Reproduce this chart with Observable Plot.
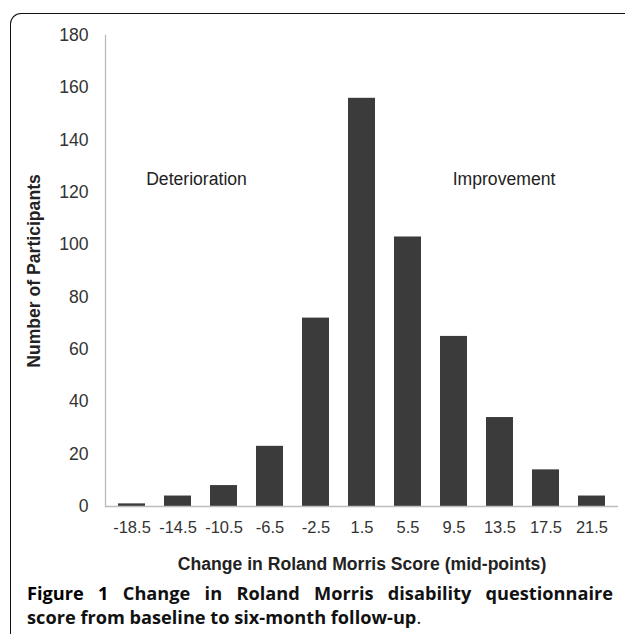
<!DOCTYPE html>
<html>
<head>
<meta charset="utf-8">
<script src="https://cdn.jsdelivr.net/npm/d3@7"></script>
<script src="https://cdn.jsdelivr.net/npm/@observablehq/plot@0.6"></script>
<style>
  html, body { margin: 0; padding: 0; background: #fff; }
  #wrap { position: relative; width: 625px; height: 634px; overflow: hidden; }
  #frame { position: absolute; left: 10px; top: 12.5px; width: 620px; height: 700px;
    border-left: 1.6px solid #111; border-top: 1.6px solid #111; border-top-left-radius: 11px; }
  #chart { position: absolute; left: 0; top: 0; }
  #caption { position: absolute; left: 27px; top: 581px; width: 586px;
    font-family: "Open Sans", sans-serif; font-weight: bold; font-size: 18.2px; line-height: 24px; color: #111; }
  #caption .l1 { text-align: justify; text-align-last: justify; white-space: nowrap; }
  #caption .dot { font-weight: normal; }
</style>
</head>
<body>
<div id="wrap">
  <div id="frame"></div>
  <div id="chart"></div>
  <div id="caption">
    <div class="l1"><span style="color:#000">Figure 1</span> Change in Roland Morris disability questionnaire</div>
    <div>score from baseline to six-month follow-up<span class="dot">.</span></div>
  </div>
</div>
<script>
const midpoints = ["-18.5", "-14.5", "-10.5", "-6.5", "-2.5", "1.5", "5.5", "9.5", "13.5", "17.5", "21.5"];
const participants = [1, 4, 8, 23, 72, 156, 103, 65, 34, 14, 4];
const yTicks = [0, 20, 40, 60, 80, 100, 120, 140, 160, 180];
const annotations = [
  {label: "Deterioration", at: "-14.5", value: 125, shift: 18.5},
  {label: "Improvement", at: "13.5", value: 125, shift: 4}
];

const data = midpoints.map((m, i) => ({mid: m, n: participants[i]}));
const font = "'Liberation Sans', Arial, sans-serif";
const fs = 17.6;

const chart = Plot.plot({
  width: 625,
  height: 575,
  marginLeft: 105,
  marginRight: 7,
  marginTop: 35,
  marginBottom: 69,
  style: {fontFamily: font, fontSize: fs + "px", color: "#333", background: "transparent"},
  x: {domain: midpoints, paddingInner: 0.42, paddingOuter: 0.21, label: null},
  y: {domain: [0, 180], label: null},
  marks: [
    Plot.barY(data, {x: "mid", y: "n", fill: "#3b3b3b"}),
    Plot.ruleY([0], {stroke: "#bdbdbd", strokeWidth: 1.3}),
    Plot.frame({anchor: "left", stroke: "#bdbdbd", strokeWidth: 1.3}),
    Plot.axisY({ticks: yTicks, tickSize: 0, tickPadding: 17, fill: "#333", fontSize: fs,
      label: "Number of Participants", labelAnchor: "center", labelOffset: 78, labelArrow: "none"}),
    Plot.axisX({tickSize: 0, tickPadding: 15, fill: "#333", fontSize: 16.5,
      label: "Change in Roland Morris Score (mid-points)", labelAnchor: "center", labelOffset: 63, labelArrow: "none"}),
    ...annotations.map(a => Plot.text([a], {x: "at", y: "value", dx: a.shift, text: "label", fill: "#222", fontSize: fs}))
  ]
});
// bold axis titles
chart.querySelectorAll("g[aria-label='x-axis label'] text, g[aria-label='y-axis label'] text").forEach(t => {
  t.setAttribute("font-weight", "bold");
  t.setAttribute("fill", "#222");
});
chart.querySelectorAll("g[aria-label='x-axis label'], g[aria-label='y-axis label']").forEach(g => {
  g.setAttribute("font-size", fs);
});
document.getElementById("chart").appendChild(chart);
</script>
</body>
</html>
